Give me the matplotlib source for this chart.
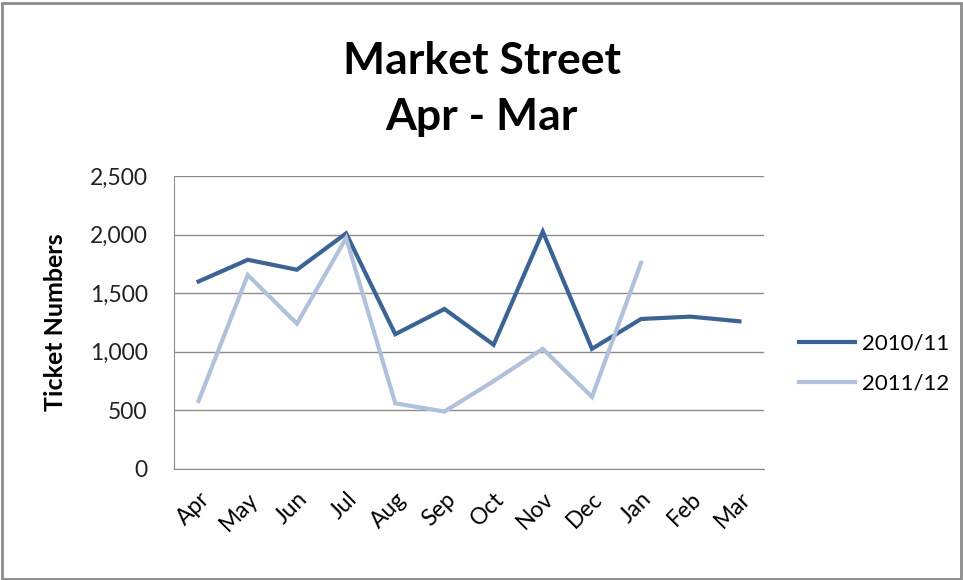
import numpy as np
import matplotlib.pyplot as plt
from matplotlib.patches import Rectangle

# data
months = ["Apr", "May", "Jun", "Jul", "Aug", "Sep", "Oct", "Nov", "Dec", "Jan", "Feb", "Mar"]
tickets_2010 = [1600, 1785, 1700, 2010, 1150, 1365, 1060, 2025, 1025, 1280, 1300, 1260]
tickets_2011 = [580, 1655, 1240, 1970, 560, 490, 750, 1025, 615, 1760]

plt.rcParams['font.family'] = ['Lato', 'DejaVu Sans']

fig = plt.figure(figsize=(9.63, 5.8), dpi=100)
ax = fig.add_axes([0.1807, 0.1914, 0.6127, 0.5052])

x = np.arange(len(months))
ax.plot(x, tickets_2010, color="#3b6495", lw=3.0, label="2010/11", solid_joinstyle="miter")
ax.plot(x[:len(tickets_2011)], tickets_2011, color="#b0c1dc", lw=3.0, label="2011/12", solid_joinstyle="miter")

ax.set_xlim(-0.5, len(months) - 0.5)
ax.set_ylim(0, 2500)
ax.set_yticks(np.arange(0, 2501, 500))
ax.set_yticklabels([f"{v:,}" for v in range(0, 2501, 500)], fontsize=16.5, color="#222222")
ax.set_xticks(x)
ax.set_xticklabels(months, rotation=45, ha="right", rotation_mode="anchor", fontsize=16.5)
ax.tick_params(axis="y", length=0, pad=19)
ax.tick_params(axis="x", length=0, pad=14)
ax.grid(axis="y", color="#8c8c8c", lw=1)
ax.set_axisbelow(True)
for s in ["top", "right"]:
    ax.spines[s].set_visible(False)
for s in ["left", "bottom"]:
    ax.spines[s].set_color("#8c8c8c")
ax.set_ylabel("Ticket Numbers", fontsize=18, fontweight="bold", labelpad=16)

fig.suptitle("Market Street\nApr - Mar", x=0.5, y=0.93, fontsize=32, fontweight="bold", linespacing=1.5)

ax.legend(loc="center left", bbox_to_anchor=(1.06, 0.36), frameon=False, fontsize=16,
          handlelength=2.5, handletextpad=0.3, labelspacing=0.9, borderaxespad=0, borderpad=0)

# grey frame around the whole chart
fig.patches.append(Rectangle((0.002, 0.002), 0.996, 0.993, transform=fig.transFigure,
                             fill=False, edgecolor="#8c8c8c", lw=2))

plt.savefig("out.png", dpi=100)
